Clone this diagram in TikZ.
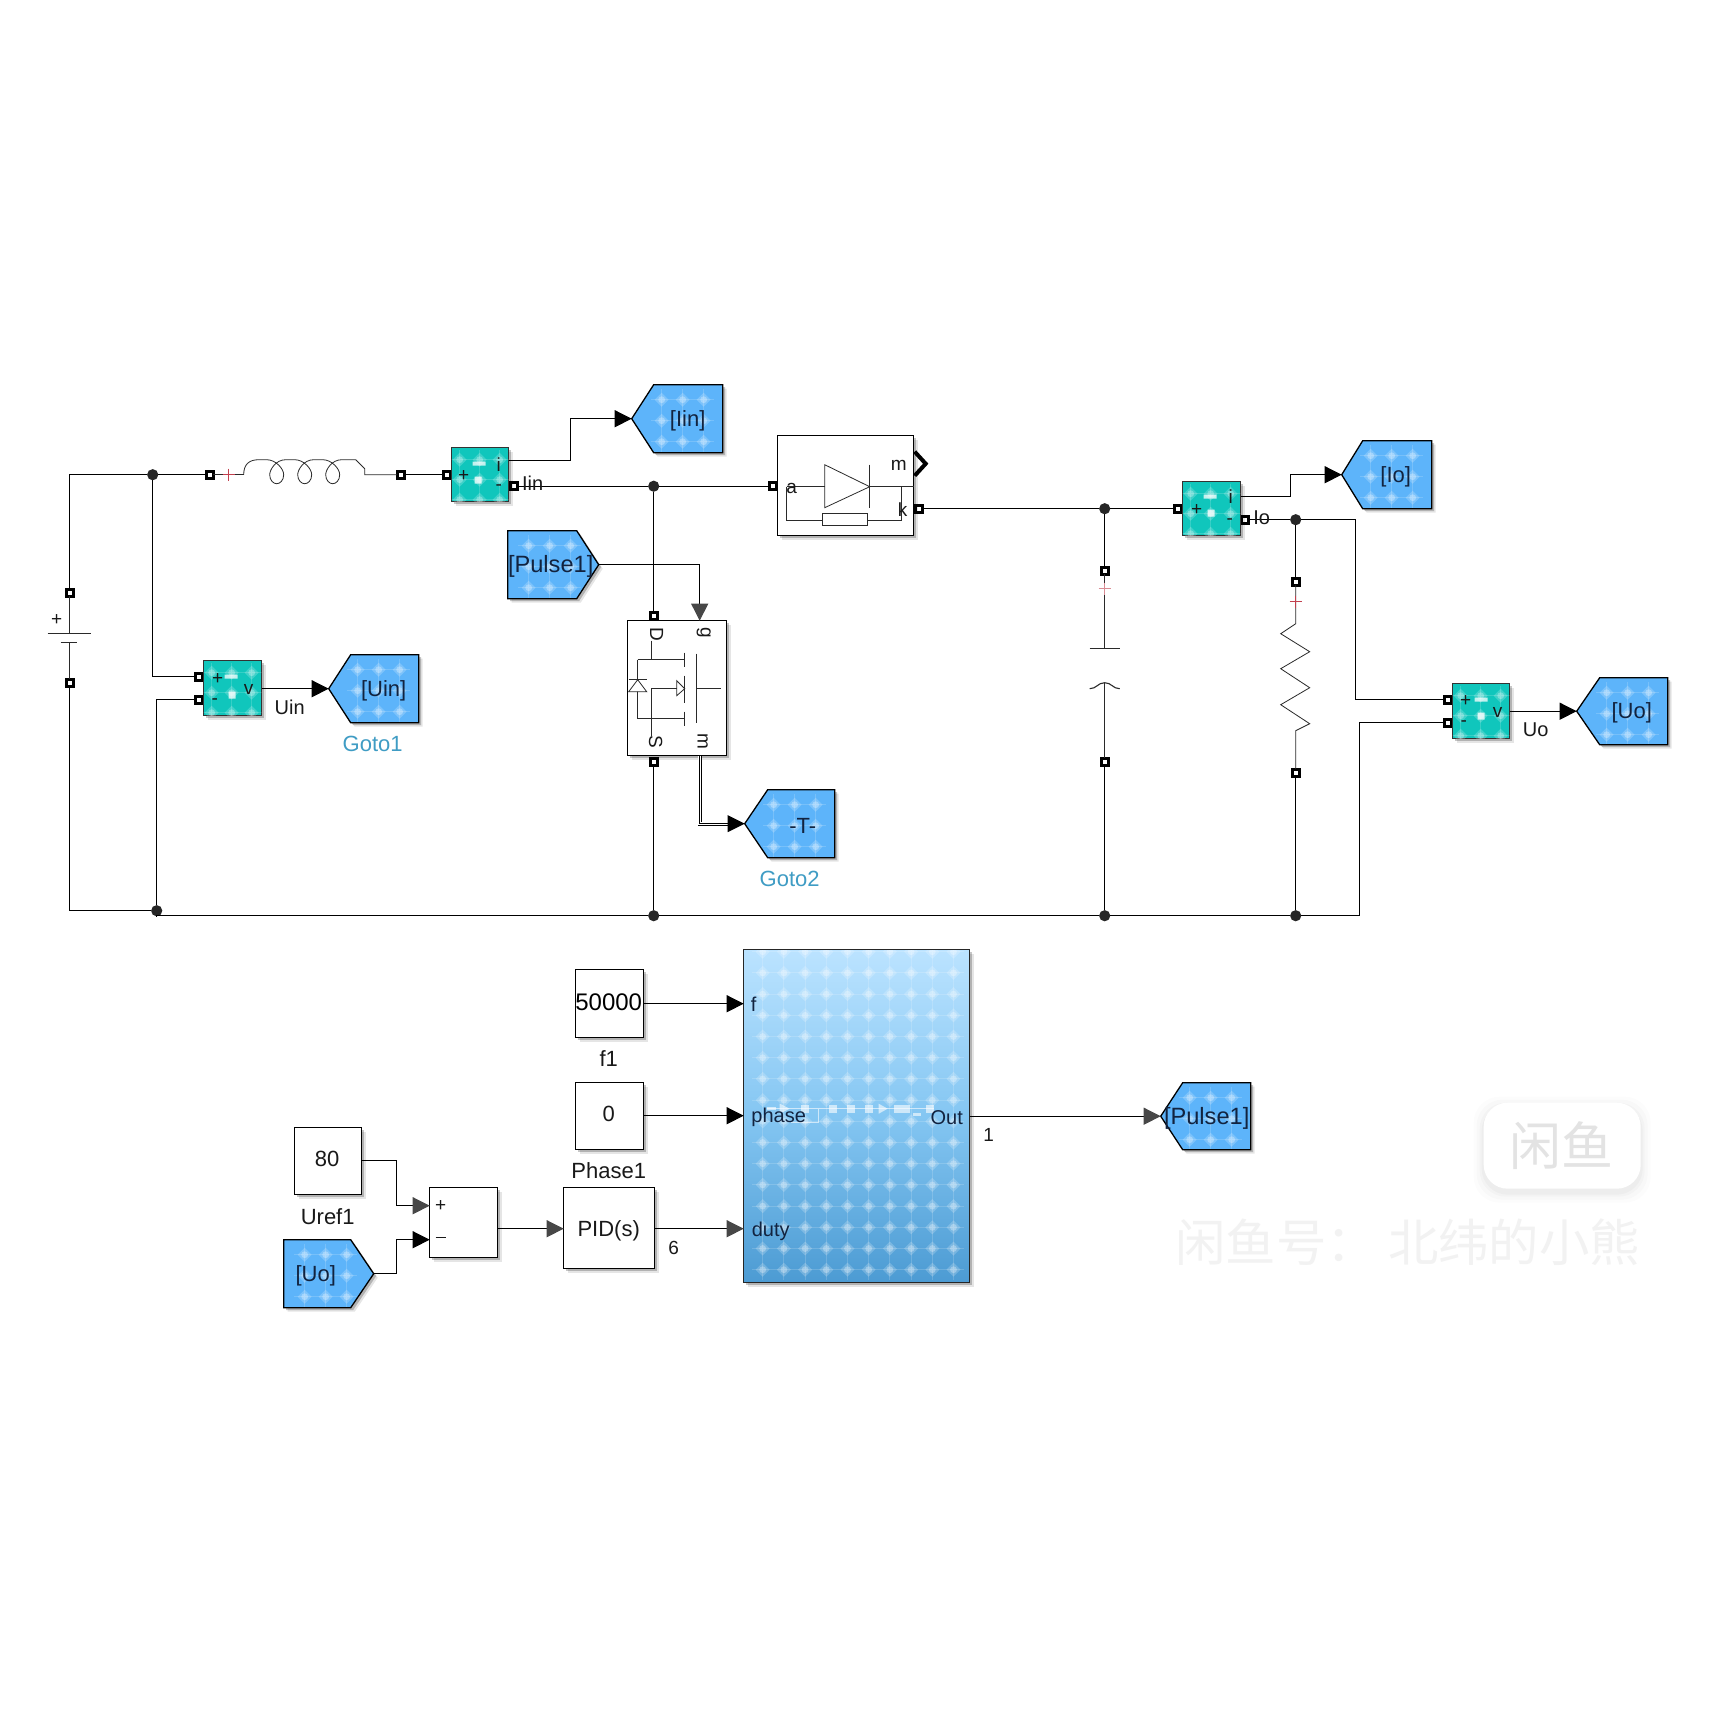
\documentclass[tikz,border=0pt]{standalone}
\usepackage{fontspec}
\setmainfont{Liberation Sans}
\newfontfamily\cjk{Noto Sans CJK SC}
\usetikzlibrary{arrows.meta}
\definecolor{gotoblue}{HTML}{5DB4FA}
\definecolor{sensorteal}{HTML}{10C6BC}
\definecolor{inktext}{HTML}{12233F}
\definecolor{gotolabel}{HTML}{3F9CC4}
\definecolor{plusred}{HTML}{C2404E}
\definecolor{icongrey}{HTML}{2A2A2A}
\definecolor{HTMLtop}{HTML}{BBE3FF}
\definecolor{HTMLmid}{HTML}{84C6F2}
\definecolor{HTMLbot}{HTML}{4C9BD3}
\tikzset{
  x=0.5pt,y=-0.5pt,
  wire/.style={line width=0.52pt,black},
  sig/.style={line width=0.52pt,black,-{Triangle[length=8.5pt,width=8.5pt]}},
  sigsoft/.style={line width=0.52pt,black,-{Triangle[length=8.5pt,width=8.5pt,color=black!72]}},
  sym/.style={line width=0.4pt,icongrey},
  portbox/.style={draw=black,fill=white,line width=1.6pt,minimum size=3.5pt,inner sep=0pt,outer sep=0pt,rectangle},
  junc/.style={circle,fill=black!85,minimum size=5.6pt,inner sep=0pt,outer sep=0pt},
  lab/.style={font=\fontsize{10}{12}\selectfont,inner sep=0pt,text=black!90},
  capt/.style={font=\fontsize{11}{13}\selectfont,inner sep=0pt,text=black!90},
  sml/.style={font=\fontsize{9.5}{11}\selectfont,inner sep=0pt,text=black!90},
  portlab/.style={font=\fontsize{10}{12}\selectfont,inner sep=0pt,text=inktext},
  glab/.style={font=\fontsize{11}{13}\selectfont,inner sep=0pt,text=inktext},
  blab/.style={font=\fontsize{11}{13}\selectfont,inner sep=0pt,text=gotolabel},
  whitebox/.style={draw=black,fill=white,line width=0.7pt,inner sep=0pt,outer sep=0pt},
  tealbox/.style={draw=black!80,fill=sensorteal,line width=0.7pt,inner sep=0pt,outer sep=0pt},
  bigbox/.style={draw=black!85,line width=0.7pt,inner sep=0pt,outer sep=0pt,top color=HTMLtop,bottom color=HTMLbot,middle color=HTMLmid},
}
\newcommand{\dotgrid}[5]{%
  \foreach \i in {0,...,#3}{\foreach \j in {0,...,#4}{%
    \pgfmathsetmacro\xx{#1+\i*#5}\pgfmathsetmacro\yy{#2+\j*#5}%
    \draw[white,opacity=.16,line width=.5pt] (\xx-#5/2,\yy)--(\xx+#5/2,\yy) (\xx,\yy-#5/2)--(\xx,\yy+#5/2);%
    \fill[white,opacity=.2] (\xx-7,\yy)--(\xx,\yy-7)--(\xx+7,\yy)--(\xx,\yy+7)--cycle;%
    \fill[white,opacity=.3] (\xx,\yy) circle[radius=3.4];%
  }}}
\newcommand{\softshadow}[1]{%
  \fill[black,opacity=.10,shift={(4,4)}] #1;\fill[black,opacity=.22,shift={(2.4,2.4)}] #1;}
\newcommand{\blockbox}[7]{%
  \pgfmathsetmacro\bw{(#4-#2)*0.5}\pgfmathsetmacro\bh{(#5-#3)*0.5}%
  \softshadow{(#2,#3) rectangle (#4,#5)}%
  \node[#6,minimum width=\bw pt,minimum height=\bh pt] (#1) at ({(#2+#4)/2},{(#3+#5)/2}) {#7};}
\newcommand{\gotoblock}[8]{%
  \pgfmathsetmacro\ym{(#5+#6)/2}%
  \pgfmathsetmacro\xs{#4>#2 ? #4-61 : #4+21}%
  \pgfmathsetmacro\yt{\ym+2}%
  \softshadow{(#2,\ym)--(#3,#5)--(#4,#5)--(#4,#6)--(#3,#6)--cycle}%
  \fill[gotoblue] (#2,\ym)--(#3,#5)--(#4,#5)--(#4,#6)--(#3,#6)--cycle;%
  \begin{scope}\clip (#2,\ym)--(#3,#5)--(#4,#5)--(#4,#6)--(#3,#6)--cycle;%
    \dotgrid{\xs}{#5+15}{2}{2}{21}\end{scope}%
  \draw[black,line width=.65pt] (#2,\ym)--(#3,#5)--(#4,#5)--(#4,#6)--(#3,#6)--cycle;%
  \coordinate (#1) at (#2,\ym);%
  \node[glab] (#1 text) at (#8,\yt) {#7};}
\newcommand{\sensorfield}[4]{%
  \begin{scope}\clip (#1,#2) rectangle (#3,#4);\dotgrid{#1+8}{#2+12}{2}{2}{20}\end{scope}}
\begin{document}
\begin{tikzpicture}
\useasboundingbox (0,0) rectangle (1710,1710);
\fill[white] (0,0) rectangle (1710,1710);
\begin{scope}[shift={(0.7,0.7)}]

% ---- watermark
\foreach \g/\o in {10/.012,7/.016,4/.02,2/.025}{%
  \fill[black,opacity=\o,rounded corners=13pt] (1483-\g,1102-\g+4) rectangle (1640+\g,1188+\g+4);}
\fill[white,rounded corners=12pt] (1483,1102) rectangle (1640,1188);
\node[inner sep=0pt,text=black!11,font=\cjk\fontsize{26}{28}\selectfont] (wmbadge) at (1561,1145) {闲鱼};
\node[inner sep=0pt,text=black!5,font=\cjk\fontsize{25.2}{28}\selectfont] (wmtext) at (1407,1241) {闲鱼号： 北纬的小熊};

% ---- ports
\node[portbox] (pBt) at (69,592) {};
\node[portbox] (pBb) at (69,682) {};
\node[portbox] (pLl) at (209,474) {};
\node[portbox] (pLr) at (400,474) {};
\node[portbox] (pIi) at (446,474) {};
\node[portbox] (pIo) at (513,485.5) {};
\node[portbox] (pVp) at (198,676) {};
\node[portbox] (pVm) at (198,699) {};
\node[portbox] (pDa) at (772,485.5) {};
\node[portbox] (pDk) at (918,508) {};
\node[portbox] (pMd) at (653,615) {};
\node[portbox] (pMs) at (653,761) {};
\node[portbox] (pCt) at (1104,570) {};
\node[portbox] (pCb) at (1104,761) {};
\node[portbox] (pIIi) at (1177,508) {};
\node[portbox] (pIIo) at (1244.5,519) {};
\node[portbox] (pRt) at (1295,581) {};
\node[portbox] (pRb) at (1295,772) {};
\node[portbox] (pWp) at (1447,699) {};
\node[portbox] (pWm) at (1447,722) {};

% ---- junctions
\node[junc] (jA) at (152,474) {};
\node[junc] (jB) at (156,910) {};
\node[junc] (jD) at (653,485.5) {};
\node[junc] (jC) at (1104,508) {};
\node[junc] (jR) at (1295,519) {};
\node[junc] (jM) at (653,915) {};
\node[junc] (jCb) at (1104,915) {};
\node[junc] (jRb) at (1295,915) {};
\coordinate (bendBL) at (156,915);
\coordinate (bendBR) at (1359,915);
\coordinate (bendWp) at (1355,519);

% ---- sensors
\blockbox{sI}{451}{447}{508}{501}{tealbox}{}
\sensorfield{451}{447}{508}{501}
\blockbox{sV}{203}{660}{261}{715}{tealbox}{}
\sensorfield{203}{660}{261}{715}
\blockbox{sII}{1182}{481}{1240}{535}{tealbox}{}
\sensorfield{1182}{481}{1240}{535}
\blockbox{sW}{1452}{683}{1509}{738}{tealbox}{}
\sensorfield{1452}{683}{1509}{738}
\begin{scope}[white,opacity=.75]
\fill (472,461) rectangle (485,465) (474,476) rectangle (481,483);
\fill (224,674) rectangle (237,678) (228,691) rectangle (235,698);
\fill (1203,494) rectangle (1216,498) (1207,509) rectangle (1214,516);
\fill (1474,697) rectangle (1487,701) (1477,712) rectangle (1484,719);
\end{scope}
\node[sml] (tI1) at (463,475) {+};
\node[sml] (tI2) at (498,464) {i};
\node[sml] (tI3) at (498,487) {-};
\node[sml] (tV1) at (217,678) {+};
\node[sml] (tV2) at (214,701) {-};
\node[sml] (tV3) at (248,689) {v};
\node[sml] (tII1) at (1196,509) {+};
\node[sml] (tII2) at (1230,496) {i};
\node[sml] (tII3) at (1229,521) {-};
\node[sml] (tW1) at (1465,700) {+};
\node[sml] (tW2) at (1463,723) {-};
\node[sml] (tW3) at (1497,712) {v};

% ---- goto / from blocks
\gotoblock{gUin}{328}{350}{418}{654}{722}{[Uin]}{383}
\gotoblock{gIin}{631}{653}{722}{384}{452}{[Iin]}{687}
\gotoblock{gIo}{1341}{1362}{1431}{440}{508}{[Io]}{1395}
\gotoblock{gUo}{1576}{1599}{1667}{677}{744}{[Uo]}{1631}
\gotoblock{gT}{744}{767}{834}{789}{857}{-T-}{802}
\gotoblock{gPin}{1160}{1182}{1250}{1082}{1149}{\fontsize{11.8}{14}\selectfont [Pulse1]}{1206}
\gotoblock{fPulse}{598}{576}{507}{530}{598}{\fontsize{11.8}{14}\selectfont [Pulse1]}{550}
\gotoblock{fUo}{373}{350}{283}{1239}{1307}{[Uo]}{315}

% ---- white blocks
\blockbox{bDiode}{777}{435}{913}{535}{whitebox}{}
\blockbox{bMos}{627}{620}{726}{755}{whitebox}{}
\blockbox{bF}{575}{969}{643}{1037}{whitebox}{}
\blockbox{bPh}{575}{1082}{643}{1149}{whitebox}{}
\blockbox{bRef}{294}{1127}{361}{1194}{whitebox}{}
\blockbox{bSum}{429}{1187}{497}{1257}{whitebox}{}
\blockbox{bPid}{563}{1187}{654}{1268}{whitebox}{}
\node[inner sep=0pt,font=\fontsize{12}{14}\selectfont] (tF) at (608,1001.5) {50000};
\node[capt] (tPh) at (608,1113) {0};
\node[capt] (tRef) at (326.5,1158.5) {80};
\node[capt] (tPid) at (608,1230) {PID(s)};

% ---- big subsystem
\blockbox{bPwm}{743}{949}{969}{1282}{bigbox}{}
\begin{scope}
\clip (743,949) rectangle (969,1282);
\dotgrid{762}{951}{9}{15}{21.2}
\end{scope}
\draw[black!85,line width=.7pt] (743,949) rectangle (969,1282);
\begin{scope}[white,opacity=.6]
\draw[line width=.4pt] (766,1108)--(933,1108) (818,1108)--(818,1122)--(790,1122);
\fill (766,1106.5) rectangle (775,1109.5);
\fill (779,1103)--(789,1108)--(779,1113)--cycle;
\fill (800,1104) rectangle (808,1112);
\fill (828,1104) rectangle (836,1112);
\fill (846,1104) rectangle (854,1112);
\fill (864,1104) rectangle (872,1112);
\fill (878,1103)--(887,1108)--(878,1113)--cycle;
\fill (893,1104) rectangle (909,1112);
\fill (912,1112) rectangle (920,1115);
\fill (925,1104) rectangle (933,1112);
\end{scope}
\node[portlab] (tf) at (753,1004) {f};
\node[portlab] (tphase) at (778,1117) {phase};
\node[portlab] (tOut) at (946,1117) {Out};
\node[portlab] (tduty) at (770,1231) {duty};

% ---- power wiring
\draw[wire] (pBt) |- (jA);
\draw[wire] (jA) -- (pLl);
\draw[wire] (pLr) -- (pIi);
\draw[wire] (jA) |- (pVp);
\draw[wire] (pVm) -| (jB);
\draw[wire] (pBb) |- (jB);
\draw[wire] (jB) -- (bendBL) -- (jM);
\draw[wire] (jM) -- (jCb);
\draw[wire] (jCb) -- (jRb);
\draw[wire] (jRb) -- (bendBR) |- (pWm);
\draw[wire] (pIo) -- (jD);
\draw[wire] (jD) -- (pDa);
\draw[wire] (jD) -- (pMd);
\draw[wire] (pMs) -- (jM);
\draw[wire] (pDk) -- (jC);
\draw[wire] (jC) -- (pIIi);
\draw[wire] (jC) -- (pCt);
\draw[wire] (pCb) -- (jCb);
\draw[wire] (pIIo) -- (jR);
\draw[wire] (jR) -- (pRt);
\draw[wire] (pRb) -- (jRb);
\draw[wire] (jR) -- (bendWp) |- (pWp);

% ---- signal wiring
\coordinate (oI) at (508,460);
\coordinate (oII) at (1240,496);
\coordinate (oV) at (261,688);
\coordinate (oW) at (1509,710.5);
\coordinate (mOut) at (699,755);
\coordinate (mG) at (699,620);
\draw[sig] (oV) -- (gUin);
\draw[sig] (oI) -- (570,460) -- (570,418) -- (gIin);
\draw[sig] (oII) -- (1290,496) -- (1290,474) -- (gIo);
\draw[sig] (oW) -- (gUo);
\draw[sigsoft] (fPulse) -| (mG);
\draw[black,line width=2.2pt] (mOut) -- (699,823) -- (732,823);
\draw[white,line width=1.3pt] (mOut) -- (699,823) -- (732,823);
\draw[black,line width=.35pt] (mOut) -- (699,823) -- (732,823);
\draw[sig,line width=0pt] (728,823) -- (gT);
\coordinate (oRef) at (361,1160);
\coordinate (iSp) at (429,1205);
\coordinate (iSm) at (429,1239);
\draw[sigsoft] (oRef) -- (396,1160) -- (396,1205) -- (iSp);
\draw[sig] (fUo) -- (396,1273) -- (396,1239) -- (iSm);
\coordinate (iPid) at (563,1228);
\coordinate (oSum) at (497,1228);
\draw[sigsoft] (oSum) -- (iPid);
\coordinate (iF) at (743,1003);
\coordinate (iPh) at (743,1115);
\coordinate (iD) at (743,1228);
\coordinate (oF) at (643,1003);
\coordinate (oPh) at (643,1115);
\coordinate (oPid) at (654,1228);
\coordinate (oPwm) at (969,1115.5);
\draw[sig] (oF) -- (iF);
\draw[sig] (oPh) -- (iPh);
\draw[sigsoft] (oPid) -- (iD);
\draw[sigsoft] (oPwm) -- (gPin);

% ---- battery
\draw[sym] (pBt) -- (69,633);
\draw[sym,line width=.55pt] (47,633) -- (90,633);
\draw[sym,line width=.55pt] (60,642) -- (76,642);
\draw[sym] (69,642) -- (pBb);
\node[sml] (tBatt) at (56,619) {+};

% ---- inductor
\draw[sym] (pLl) -- (243,474);
\draw[sym] (243,474) .. controls (243,464) and (248,459) .. (258,459) -- (266,459)
 .. controls (275,459) and (283,468) .. (283,474) .. controls (283,480) and (279,483) .. (276,483)
 .. controls (273,483) and (269,480) .. (269,474) .. controls (269,469) and (275,459) .. (285,459) -- (294,459)
 .. controls (303,459) and (311,468) .. (311,474) .. controls (311,480) and (307,483) .. (304,483)
 .. controls (301,483) and (297,480) .. (297,474) .. controls (297,469) and (303,459) .. (313,459) -- (322,459)
 .. controls (331,459) and (339,468) .. (339,474) .. controls (339,480) and (335,483) .. (332,483)
 .. controls (329,483) and (325,480) .. (325,474) .. controls (325,469) and (331,459) .. (341,459) -- (355,459)
 -- (364,468) -- (364,474) -- (pLr);
\draw[plusred,line width=.65pt] (222,474) -- (234,474) (228,468) -- (228,480);

% ---- diode block
\draw[sym] (786,486) -- (824,486) (869,486) -- (913,486);
\draw[sym] (824,464) -- (869,486) -- (824,507) -- cycle;
\draw[sym] (869,464) -- (869,507);
\draw[sym] (786,486) -- (786,520) -- (822,520) (867,520) -- (901,520) -- (901,486);
\draw[sym] (822,513) rectangle (867,525);
\draw[black,line width=2pt] (914,451) -- (925,463) -- (914,475);
\node[sml] (ta) at (791,488) {a};
\node[sml] (tm) at (898,465) {m};
\node[sml] (tk) at (902,509) {k};

% ---- mosfet block
\node[sml,rotate=-90] (tD) at (656,634) {D};
\node[sml,rotate=-90] (tg) at (703,632) {g};
\node[sml,rotate=-90] (tS) at (655,741) {S};
\node[sml,rotate=-90] (tmm) at (702,741) {m};
\draw[sym] (651,640) -- (651,659) (637,659) -- (684,659) (684,652) -- (684,666);
\draw[sym] (637,659) -- (637,718) -- (684,718) (684,711) -- (684,725);
\draw[sym,fill=white] (637,679) -- (646,691) -- (628,691) -- cycle;
\draw[sym] (628,679) -- (646,679);
\draw[sym] (684,675) -- (684,702);
\draw[sym] (696,653) -- (696,722) (696,688) -- (720,688);
\draw[sym] (651,735) -- (651,688) -- (676,688);
\draw[sym] (676,680) -- (684,688) -- (676,695) -- cycle;

% ---- capacitor
\draw[sym] (pCt) -- (1104,648);
\draw[sym,line width=.55pt] (1089,648) -- (1119,648);
\draw[sym,line width=.55pt] (1089,688) .. controls (1096,688) and (1097,682) .. (1104,682) .. controls (1111,682) and (1112,688) .. (1119,688);
\draw[sym] (1104,682) -- (pCb);
\draw[plusred!60,line width=.65pt] (1098,588) -- (1110,588) (1104,582) -- (1104,594);

% ---- resistor
\draw[sym] (pRt) -- (1295,623) -- (1280,633) -- (1309,651) -- (1280,668) -- (1309,687) -- (1280,704) -- (1309,723) -- (1295,730) -- (pRb);
\draw[plusred,line width=.75pt] (1289,601) -- (1301,601) (1295,595) -- (1295,607);

% ---- sum signs
\node[sml] (tPlus) at (440,1205) {+};
\node[sml] (tMinus) at (440,1239) {\rule[2.6pt]{5pt}{.6pt}};

% ---- labels
\node[lab] (lIin) at (532,483) {Iin};
\node[lab] (lIo) at (1261,517) {Io};
\node[lab] (lUin) at (289,707) {Uin};
\node[lab] (lUo) at (1535,729) {Uo};
\node[blab] (lG1) at (372,743) {Goto1};
\node[blab] (lG2) at (789,878) {Goto2};
\node[capt] (lf1) at (608,1058) {f1};
\node[capt] (lPh) at (608,1170) {Phase1};
\node[capt] (lRef) at (327,1216) {Uref1};
\node[sml] (l6) at (673,1247) {6};
\node[sml] (l1) at (988,1134) {1};
\end{scope}
\end{tikzpicture}
\end{document}
